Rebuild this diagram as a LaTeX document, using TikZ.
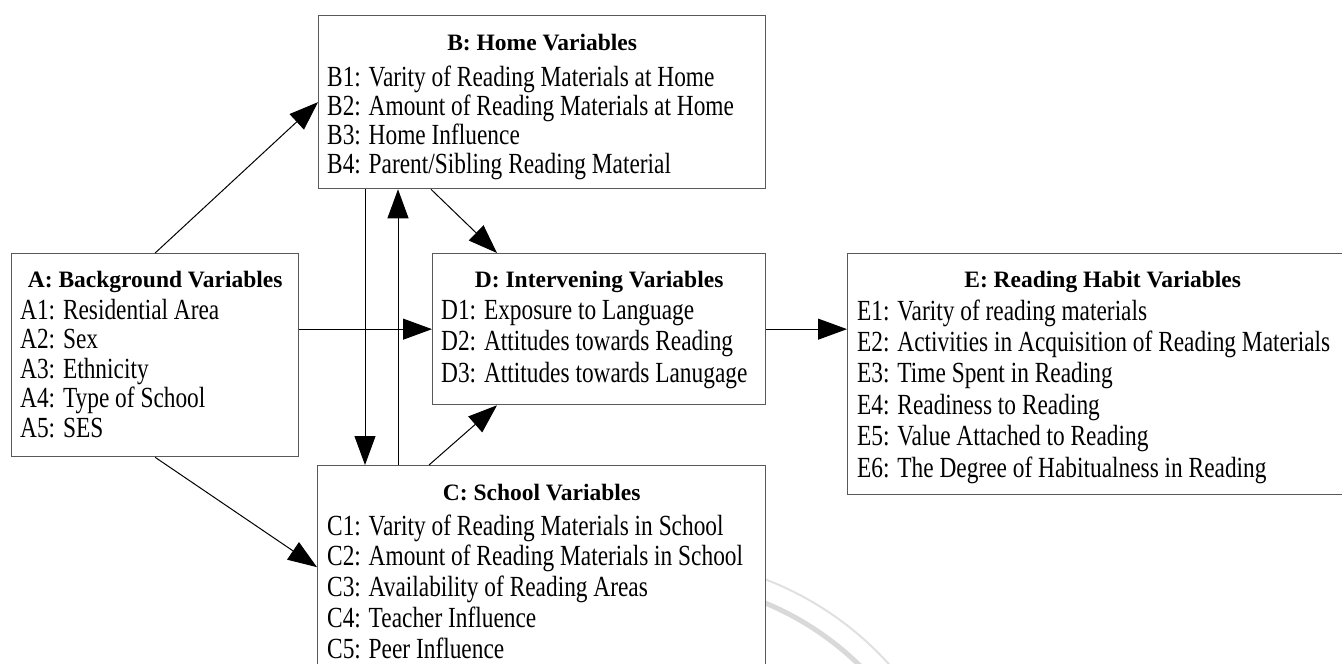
\documentclass[tikz,border=0pt]{standalone}
\usepackage{fontspec}
\setmainfont{Liberation Serif}
\newfontfamily\bodyf{Liberation Serif}[FakeStretch=0.8]
\usetikzlibrary{arrows.meta,calc}
\begin{document}
\begin{tikzpicture}[x=1pt,y=-1pt,
  varbox/.style={draw=black!65,line width=1.3pt,fill=white,inner sep=0pt,anchor=north west},
  ttl/.style={anchor=base,inner sep=0pt,font=\fontsize{23.5}{24}\selectfont\bfseries},
  itm/.style={anchor=base west,inner sep=0pt,font=\bodyf\fontsize{29.2}{30}\selectfont},
  conn/.style={line width=1pt,-{Triangle[length=29pt,width=21pt]}},
  wmark/.style={line cap=round}
]
\useasboundingbox (0,0) rectangle (1342,664);
\begin{scope}
\clip (0,0) rectangle (1342,664);
% faint watermark arcs
\draw[wmark,black!12,line width=2pt] (650,880) ++(-75:322) arc[start angle=-75,end angle=-20,radius=322];
\draw[wmark,black!15,line width=5pt] (650,880) ++(-75:300) arc[start angle=-75,end angle=-20,radius=300];

% boxes
\node[varbox,minimum width=287pt,minimum height=203pt] (A) at (11,253) {};
\node[varbox,minimum width=447pt,minimum height=173pt] (B) at (318,15) {};
\node[varbox,minimum width=333pt,minimum height=151pt] (D) at (432,253) {};
\node[varbox,minimum width=510pt,minimum height=241pt] (E) at (847,253) {};
\node[varbox,minimum width=448pt,minimum height=203pt] (C) at (317,465) {};

% titles
\node[ttl] (At) at ($(A.north)+(0,34)$) {A: Background Variables};
\node[ttl] (Bt) at ($(B.north)+(0,35)$) {B: Home Variables};
\node[ttl] (Dt) at ($(D.north)+(0,34)$) {D: Intervening Variables};
\node[ttl] (Et) at ($(E.north)+(0,34)$) {E: Reading Habit Variables};
\node[ttl] (Ct) at ($(C.north)+(0,35)$) {C: School Variables};

% items
\foreach \t [count=\i] in {{A1: Residential Area},{A2: Sex},{A3: Ethnicity},{A4: Type of School},{A5: SES}}
  \node[itm] (A\i) at ($(A.north west)+(9,{66+(\i-1)*29.5})$) {\t};
\foreach \t [count=\i] in {{B1: Varity of Reading Materials at Home},{B2: Amount of Reading Materials at Home},{B3: Home Influence},{B4: Parent/Sibling Reading Material}}
  \node[itm] (B\i) at ($(B.north west)+(9,{71+(\i-1)*29.3})$) {\t};
\foreach \t [count=\i] in {{D1: Exposure to Language},{D2: Attitudes towards Reading},{D3: Attitudes towards Lanugage}}
  \node[itm] (D\i) at ($(D.north west)+(9,{66+(\i-1)*31.5})$) {\t};
\foreach \t [count=\i] in {{E1: Varity of reading materials},{E2: Activities in Acquisition of Reading Materials},{E3: Time Spent in Reading},{E4: Readiness to Reading},{E5: Value Attached to Reading},{E6: The Degree of Habitualness in Reading}}
  \node[itm] (E\i) at ($(E.north west)+(10,{67+(\i-1)*31.4})$) {\t};
\foreach \t [count=\i] in {{C1: Varity of Reading Materials in School},{C2: Amount of Reading Materials in School},{C3: Availability of Reading Areas},{C4: Teacher Influence},{C5: Peer Influence}}
  \node[itm] (C\i) at ($(C.north west)+(10,{70+(\i-1)*30.75})$) {\t};

% connectors
\coordinate (bc) at ($(B.south west)+(47,0)$);
\coordinate (cb) at ($(C.north west)+(81,0)$);
\draw[conn] (A.north) -- (B.west);
\draw[conn] (A.south) -- (C.west);
\draw[conn] (A.east |- D.west) -- (D.west);
\draw[conn] (D.east) -- (D.east -| E.west);
\draw[conn] ($(B.south west)+(113,0)$) -- ($(D.north west)+(65,0)$);
\draw[conn] ($(C.north west)+(112,0)$) -- ($(D.south west)+(65,0)$);
\draw[conn] (bc) -- (bc |- C.north);
\draw[conn] (cb) -- (cb |- B.south);
\end{scope}
\end{tikzpicture}
\end{document}
